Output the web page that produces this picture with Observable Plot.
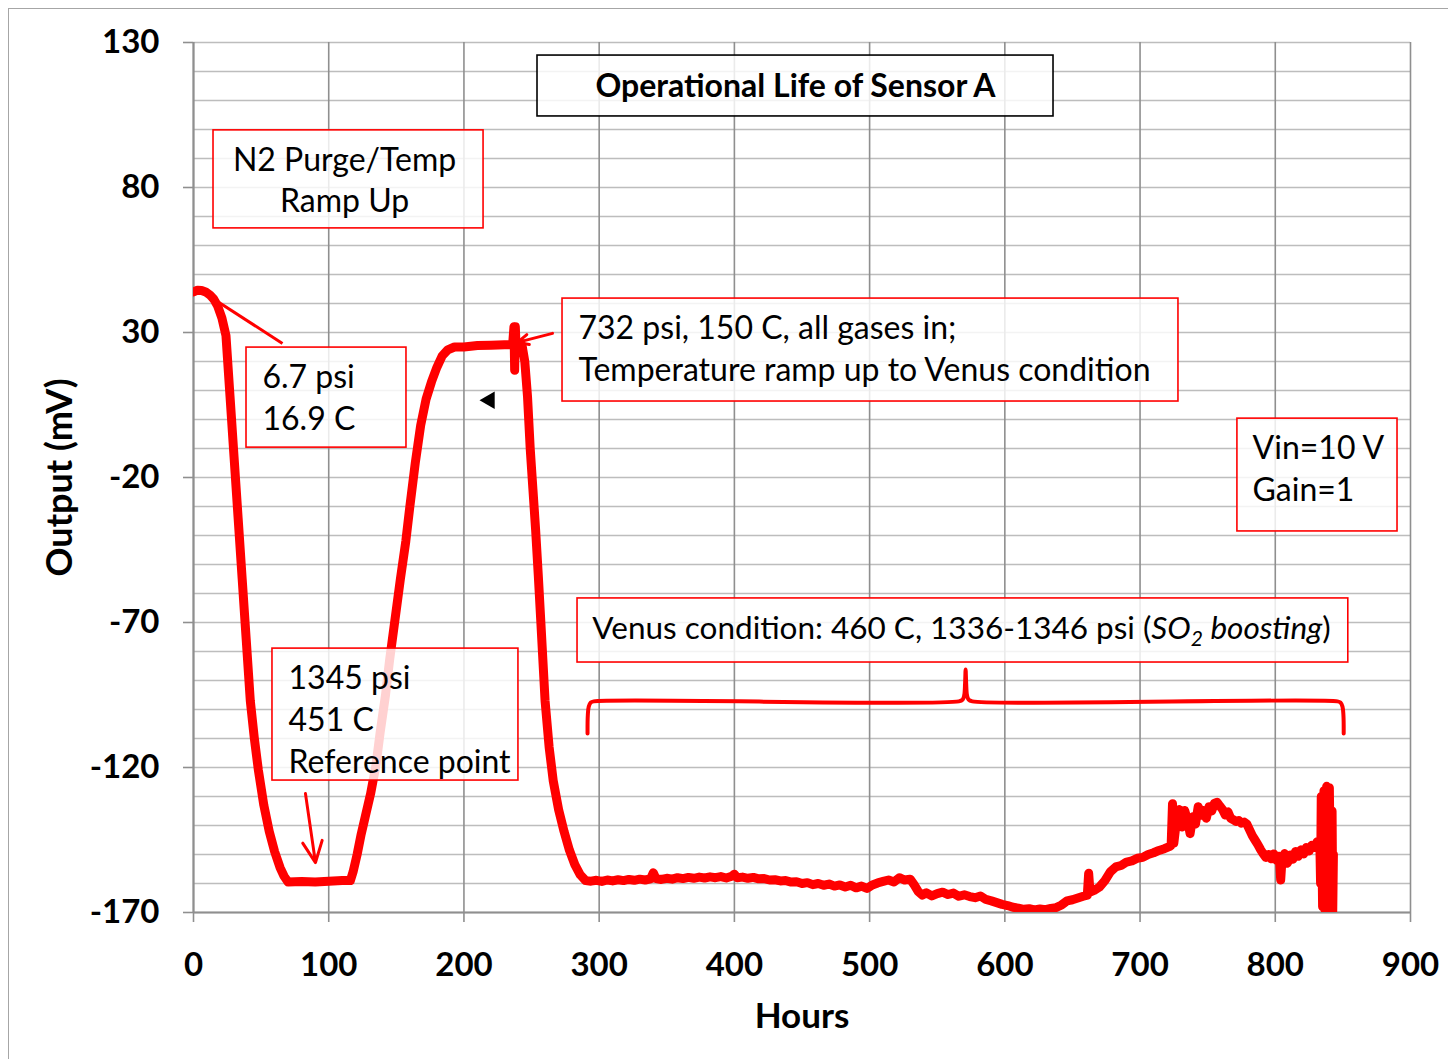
<!DOCTYPE html>
<html>
<head>
<meta charset="utf-8">
<script src="https://cdn.jsdelivr.net/npm/d3@7"></script>
<script src="https://cdn.jsdelivr.net/npm/@observablehq/plot@0.6"></script>
<style>
  html, body { margin: 0; padding: 0; background: #fff; }
  #wrap { position: relative; width: 1448px; height: 1059px; overflow: hidden; }
  #border { position: absolute; left: 8px; top: 8px; width: 1460px; height: 1070px;
            border-top: 1.5px solid #a6a6a6; border-left: 1.5px solid #a6a6a6; pointer-events: none; }
</style>
</head>
<body>
<div id="wrap"><div id="chart"></div><div id="border"></div></div>
<script>
// ---- Data (hours, output mV) ----
const hours = [
  0,3,6,9,12,15,18,21,24,27,30,33,36,39,42,45,48,52,56,60,64,67,70,
  80,90,100,110,116,
  118,121,124,127,131,135,138,142,145,149,153,157,160,164,168,172,176,180,184,188,193,200,210,220,230,236,
  237,237.5,238,238.5,240,243,245,247,249,251,253,255,257,260,263,266,270,274,278,282,286,290,
  294,298,302,306,310,314,318,322,326,330,334,338,340,342,346,350,354,358,362,366,370,374,378,382,386,390,394,398,400,402,
  406,410,414,418,422,426,430,434,438,442,446,450,454,458,462,466,470,474,478,482,486,490,494,498,502,506,510,514,518,522,526,530,
  533,536,539,542,546,550,554,558,562,566,570,574,578,582,586,590,594,598,602,606,610,614,618,622,626,630,634,638,642,646,650,654,658,661,
  662,663,666,670,674,678,682,686,690,694,698,702,706,710,714,718,722,723,724,725,727,729,731,733,735,737,739,741,743,745,747,749,751,753,755,757,759,
  761,763,765,767,769,771,773,775,777,779,781,783,785,787,789,791,793,795,797,799,801,803,804,805,807,809,811,813,815,817,819,821,823,825,827,829,831,833,
  833.5,834,835,836,837,838,839,840,841,842,842.5,843
];
const output = [
  44,44.6,44.5,44,43,41.5,39,35,29,8,-13,-34,-55,-76,-97,-110,-121,-133,-142,-149,-154.5,-157.5,-159.5,
  -159.3,-159.5,-159.2,-159,-159,
  -156,-150,-143,-137,-129,-119,-108,-95,-83,-69,-55,-42,-30,-15,-2,7,13,18,22,24,25,25,25.5,25.6,25.8,25.8,
  32,17,32,25.5,25.8,25.5,20,8,-10,-24,-38,-54,-71,-97,-113,-124.5,-134.5,-142,-148.5,-153.5,-157,-159,
  -159.2,-158.9,-159.3,-158.8,-159.1,-158.7,-159,-158.6,-158.9,-158.5,-158.8,-158.4,-156.3,-158.3,-158.6,-158.2,-158.5,-158,-158.3,-157.9,-158.2,-157.8,-158.1,-157.7,-158,-157.6,-158.1,-157.5,-156.8,-158,
  -157.8,-158.2,-157.9,-158.4,-158.3,-158.8,-158.7,-159.1,-159,-159.5,-159.4,-160,-159.7,-160.4,-160,-160.6,-160.2,-160.9,-160.5,-161.2,-160.6,-161.5,-160.9,-161.7,-160.5,-159.8,-159.3,-158.8,-159.5,-158,-158.8,-158.5,
  -160.5,-162.8,-164,-163.2,-164.3,-163.5,-163,-163.8,-163.3,-164.4,-163.9,-164.5,-164.9,-164.3,-165.5,-166,-166.6,-167.2,-167.6,-168.2,-168.5,-168.9,-168.7,-169.1,-168.8,-169,-168.6,-168.3,-167.4,-166,-165.6,-165,-164.4,-164,
  -156.5,-163,-162.4,-161.2,-159,-156,-154.3,-153.8,-152.6,-152.2,-151.3,-151,-150,-149.4,-148.6,-148,-147.2,-146.8,-132.5,-146,-138,-134.5,-140.5,-134.8,-138,-142.8,-137,-139.5,-133.5,-136.5,-134.8,-137.5,-133.5,-135,-132.3,-132,-133.3,
  -134.5,-136.4,-135.3,-137.5,-138,-138.6,-138.3,-139.2,-138.8,-139.5,-141.5,-143.5,-145,-146.5,-148.2,-149.7,-151,-150,-151.5,-149.8,-152,-150.6,-158.8,-151.5,-149.7,-153,-150.2,-151.6,-149,-150.6,-148.4,-149.8,-147.6,-148.8,-146.8,-147.6,-145.6,-147.5,
  -160,-130,-168,-128,-170,-126.5,-169,-127,-170,-135,-169.5,-150
];

// ---- Axes ----
const xTicks = [0,100,200,300,400,500,600,700,800,900];
const yTicks = [-170,-120,-70,-20,30,80,130];
const yGrid = d3.range(-170, 131, 10);
const xLabel = "Hours";
const yLabel = "Output (mV)";
const chartTitle = "Operational Life of Sensor A";

// ---- Annotations (data units) ----
const boxes = [
  {x1: 254.4, x2: 636, y1: 104.5, y2: 125.5, stroke: "black"},
  {x1: 14.8, x2: 214.5, y1: 65.9, y2: 99.7, stroke: "red"},
  {x1: 39.2, x2: 157.5, y1: -9.7, y2: 24.8, stroke: "red"},
  {x1: 272.9, x2: 728.4, y1: 6.2, y2: 41.7, stroke: "red"},
  {x1: 772, x2: 890.4, y1: -38.6, y2: 0.3, stroke: "red"},
  {x1: 284, x2: 854, y1: -83.8, y2: -61.7, stroke: "red"},
  {x1: 58.4, x2: 240.3, y1: -124.5, y2: -79, stroke: "red"}
];
const notesLeft = [
  {x: 51, y: 8.2, text: "6.7 psi\n16.9 C"},
  {x: 284.7, y: 25.1, text: "732 psi, 150 C, all gases in;\nTemperature ramp up to Venus condition"},
  {x: 783.2, y: -16.2, text: "Vin=10 V\nGain=1"},
  {x: 70.3, y: -102.8, text: "1345 psi\n451 C\nReference point"}
];
const notesCenter = [
  {x: 111.7, y: 83, text: "N2 Purge/Temp\nRamp Up"}
];
const venusNote = {x: 568, y: -72.1, text: "Venus condition: 460 C, 1336-1346 psi (SO2 boosting)"};
const connector = [{x1: 65.8, y1: 26.2, x2: 8.9, y2: 43.4}];
const arrows = [
  {x1: 265.5, y1: 29.7, x2: 239.6, y2: 26.6},
  {x1: 82.8, y1: -129, x2: 90.2, y2: -152.8}
];
const brace = [
  [291.4,-108.3],[291.6,-102],[292.3,-99],[293.8,-97.6],[296,-97.2],[566,-97.2],[568.8,-96.6],[570,-95],[570.6,-91],[571,-86.2],
  [571.4,-91],[572,-95],[573.2,-96.6],[576,-97.2],[846,-97.2],[848.2,-97.6],[849.7,-99],[850.4,-102],[850.6,-108.3]
];
const marker = [{x: 219, y: 6.6}];

const data = hours.map((h, i) => ({h, v: output[i]}));
const FONT = "Lato, 'Open Sans', sans-serif";
const fmt = d => `${d}`;

const chart = Plot.plot({
  width: 1448, height: 1059,
  marginLeft: 193, marginRight: 38, marginTop: 42, marginBottom: 147,
  x: {domain: [0, 900]},
  y: {domain: [-170, 130]},
  style: {fontFamily: FONT, background: "white", color: "black"},
  marks: [
    Plot.gridY(yGrid, {stroke: "#bdbdbd", strokeOpacity: 1, strokeWidth: 1.4}),
    Plot.gridX(xTicks, {stroke: "#8f8f8f", strokeOpacity: 1, strokeWidth: 1.6}),
    Plot.ruleX([0], {stroke: "#8f8f8f", strokeWidth: 2}),
    Plot.ruleY([-170], {stroke: "#8f8f8f", strokeWidth: 2}),
    Plot.axisY(yTicks, {tickSize: 10, tickPadding: 24, fontSize: 33, fontWeight: "bold", label: null, tickFormat: fmt, stroke: "#8f8f8f", strokeWidth: 1.6}),
    Plot.axisX(xTicks, {tickSize: 10, tickPadding: 30, fontSize: 33, fontWeight: "bold", label: null, tickFormat: fmt, stroke: "#8f8f8f", strokeWidth: 1.6}),
    Plot.text([yLabel], {frameAnchor: "left", dx: -133, rotate: -90, textAnchor: "middle", lineAnchor: "middle", fontSize: 36, fontWeight: "bold", text: d => d}),
    Plot.text([xLabel], {frameAnchor: "bottom", dy: 104, textAnchor: "middle", lineAnchor: "middle", fontSize: 35, fontWeight: "bold", text: d => d}),
    Plot.line(data, {x: "h", y: "v", stroke: "#ff0000", strokeWidth: 9, strokeLinejoin: "round", strokeLinecap: "round", clip: true}),
    Plot.rect(boxes, {x1: "x1", x2: "x2", y1: "y1", y2: "y2", fill: "white", fillOpacity: 0.82, stroke: d => d.stroke, strokeWidth: 1.6}),
    Plot.text([chartTitle], {x: 445.2, y: 114.8, text: d => d, fontSize: 32, fontWeight: "bold", textAnchor: "middle"}),
    Plot.text(notesLeft, {x: "x", y: "y", text: "text", fontSize: 32, textAnchor: "start", lineAnchor: "middle", lineHeight: 1.3}),
    Plot.text(notesCenter, {x: "x", y: "y", text: "text", fontSize: 32, textAnchor: "middle", lineAnchor: "middle", lineHeight: 1.28}),
    Plot.text([venusNote], {x: "x", y: "y", text: "text", fontSize: 31.5, textAnchor: "middle", className: "venus-label"}),
    Plot.link(connector, {x1: "x1", y1: "y1", x2: "x2", y2: "y2", stroke: "#ff0000", strokeWidth: 3}),
    Plot.arrow(arrows, {x1: "x1", y1: "y1", x2: "x2", y2: "y2", stroke: "#ff0000", strokeWidth: 3, headLength: 16, headAngle: 50}),
    Plot.line(brace, {x: d => d[0], y: d => d[1], stroke: "#ff0000", strokeWidth: 4, curve: "catmull-rom"}),
    Plot.dot(marker, {x: "x", y: "y", symbol: "triangle", rotate: -90, r: 6.5, fill: "black", stroke: "none"})
  ]
});
document.getElementById("chart").appendChild(chart);

// Subscript / italic for the Venus note
const vt = chart.querySelector("g.venus-label text");
if (vt) {
  vt.textContent = "";
  const parts = [
    {t: "Venus condition: 460 C, 1336-1346 psi ("},
    {t: "SO", it: true},
    {t: "2", it: true, sub: true},
    {t: " boosting", it: true, up: true},
    {t: ")"}
  ];
  for (const p of parts) {
    const ts = document.createElementNS("http://www.w3.org/2000/svg", "tspan");
    ts.textContent = p.t;
    if (p.it) ts.setAttribute("font-style", "italic");
    if (p.sub) { ts.setAttribute("font-size", "21"); ts.setAttribute("dy", "7"); }
    if (p.up) ts.setAttribute("dy", "-7");
    vt.appendChild(ts);
  }
}
</script>
</body>
</html>
